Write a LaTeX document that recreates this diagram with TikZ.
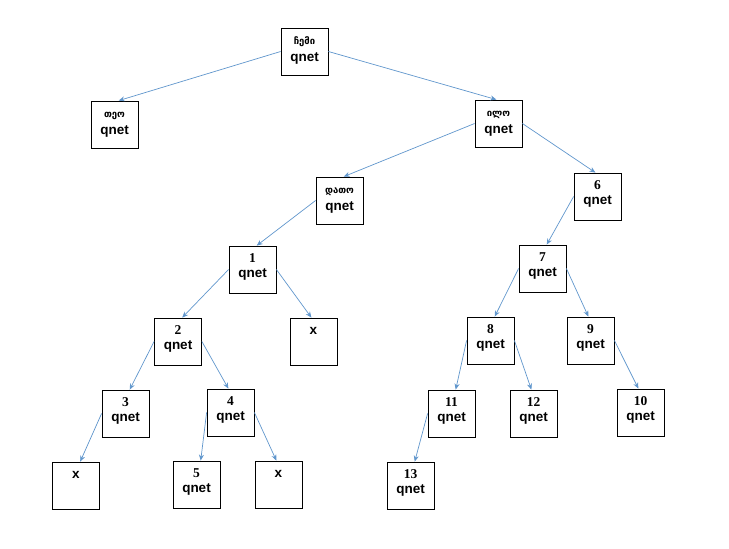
\documentclass[tikz,border=0pt]{standalone}
\usepackage{fontspec}
\setmainfont{Liberation Serif}
\newfontfamily\qnetfont{Liberation Sans}
\newfontfamily\geofont[Script=Georgian]{DejaVu Sans}
\usetikzlibrary{arrows.meta}
\definecolor{linkBlue}{RGB}{96,150,204}
\tikzset{
    cell/.style={draw, line width=0.8pt, minimum size=47pt, inner sep=1.5pt},
    link/.style={draw=linkBlue, line width=0.7pt, -{Stealth[length=6pt,width=5pt]}}
}
\newcommand{\nm}[1]{\fontsize{13.5}{15}\selectfont\bfseries #1}
\newcommand{\geo}[1]{\geofont\fontsize{9.5}{10}\selectfont\bfseries #1}
\newcommand{\qn}{\qnetfont\fontsize{13.5}{15}\selectfont\bfseries qnet}
\newcommand{\ex}{\qnetfont\fontsize{13.5}{15}\selectfont\bfseries x}
\newcommand{\cellbox}[2]{\vbox to 44pt{\hbox to 44pt{\hss\vrule height 14.5pt width 0pt #1\hss}\nointerlineskip\hbox to 44pt{\hss\vrule height 15pt width 0pt #2\hss}\vss}}

\begin{document}
\begin{tikzpicture}[x=1pt, y=-1pt]
    \useasboundingbox (0,0) rectangle (729,549);

    % Top levels
    \node[cell] (root) at (304.5,51.5) {\cellbox{\geo{ჩემი}}{\qn}};
    \node[cell] (teo) at (114.5,124.5) {\cellbox{\geo{თეო}}{\qn}};
    \node[cell] (ilo) at (498.5,123.5) {\cellbox{\geo{ილო}}{\qn}};
    \node[cell] (dato) at (339.5,200.5) {\cellbox{\geo{დათო}}{\qn}};
    \node[cell] (n6) at (597.5,196.5) {\cellbox{\nm{6}}{\qn}};

    % Numbered nodes
    \node[cell] (n1) at (252.5,269.5) {\cellbox{\nm{1}}{\qn}};
    \node[cell] (n7) at (542.5,268.5) {\cellbox{\nm{7}}{\qn}};
    \node[cell] (n2) at (178,341.5) {\cellbox{\nm{2}}{\qn}};
    \node[cell] (x1) at (313.5,341.5) {\cellbox{\ex}{}};
    \node[cell] (n8) at (490.5,340.5) {\cellbox{\nm{8}}{\qn}};
    \node[cell] (n9) at (590.5,340.5) {\cellbox{\nm{9}}{\qn}};
    \node[cell] (n3) at (125.5,413.5) {\cellbox{\nm{3}}{\qn}};
    \node[cell] (n4) at (230.5,412.5) {\cellbox{\nm{4}}{\qn}};
    \node[cell] (n11) at (451.5,413.5) {\cellbox{\nm{11}}{\qn}};
    \node[cell] (n12) at (533.5,413.5) {\cellbox{\nm{12}}{\qn}};
    \node[cell] (n10) at (640.5,412.5) {\cellbox{\nm{10}}{\qn}};
    \node[cell] (x2) at (76,485.5) {\cellbox{\ex}{}};
    \node[cell] (n5) at (196.5,484.5) {\cellbox{\nm{5}}{\qn}};
    \node[cell] (x3) at (278.5,484.5) {\cellbox{\ex}{}};
    \node[cell] (n13) at (410.5,485.5) {\cellbox{\nm{13}}{\qn}};

    % Links to left children
    \foreach \a/\b in {root/teo, ilo/dato, dato/n1, n6/n7, n1/n2, n7/n8, n2/n3, n8/n11, n3/x2, n4/n5, n11/n13}
        \draw[link] (\a.west) -- (\b.80);
    % Links to right children
    \foreach \a/\b in {root/ilo, ilo/n6, n1/x1, n7/n9, n2/n4, n8/n12, n9/n10, n4/x3}
        \draw[link] (\a.east) -- (\b.95);
\end{tikzpicture}
\end{document}
